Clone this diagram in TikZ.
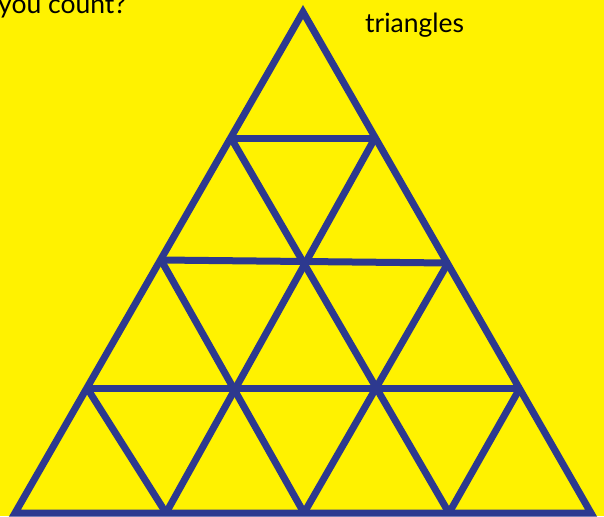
\documentclass[tikz,border=0pt]{standalone}
\usepackage{fontspec}
\setmainfont{Lato}
\definecolor{bgyellow}{RGB}{255,242,0}
\definecolor{gridblue}{RGB}{45,57,143}

\begin{document}
\begin{tikzpicture}[
    x=1pt, y=-1pt,
    edge/.style={draw=gridblue, line width=7pt, line join=miter},
    caption/.style={font=\fontsize{26.5}{31}\selectfont, inner sep=0pt, anchor=base west}
]

% background
\useasboundingbox (0,0) rectangle (604,516);
\clip (0,0) rectangle (604,516);
\fill[bgyellow] (0,0) rectangle (604,516);

% grid points, row by row
\foreach \r/\k/\x/\y in {0/0/303/12,
    1/0/231/138, 1/1/375/138,
    2/0/161/260, 2/1/305/262, 2/2/448/263,
    3/0/87/388, 3/1/235/388, 3/2/377/388, 3/3/520/388,
    4/0/15/513, 4/1/166/513, 4/2/304/513, 4/3/449/513, 4/4/591/513}
  \coordinate (v-\r-\k) at (\x,\y);

% outer triangle
\draw[edge] (v-0-0) -- (v-4-4) -- (v-4-0) -- cycle;

% rows
\foreach \r in {1,2,3}
  \draw[edge] (v-\r-0) -- (v-\r-\r);

% diagonals
\foreach \k in {1,2,3}
  \draw[edge] (v-4-\k) -- (v-\k-\k);
\foreach \k [evaluate=\k as \j using int(4-\k)] in {1,2,3}
  \draw[edge] (v-4-\k) -- (v-\j-0);

% texts
\node[caption] (count) at (-2,14) {you count?};
\node[caption] (tri) at (365,33) {triangles};

\end{tikzpicture}
\end{document}
